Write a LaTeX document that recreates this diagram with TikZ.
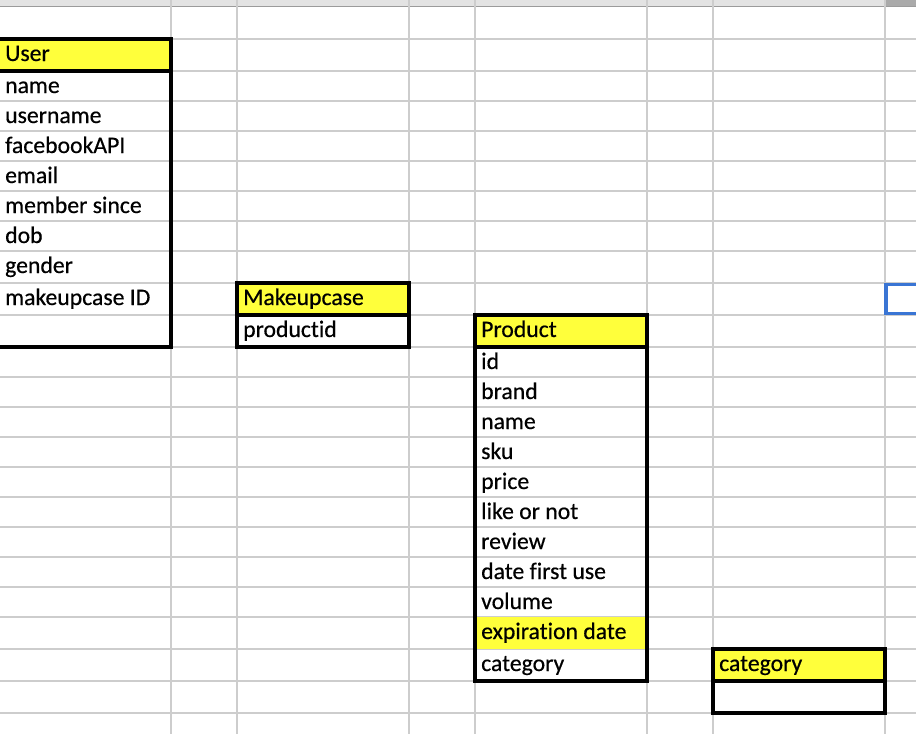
\documentclass[tikz,border=0pt]{standalone}
\usepackage{fontspec}
\setmainfont[Ligatures=NoCommon, FakeBold=0.5]{Carlito}
\usepackage{xcolor}
\usepackage{tikz}
\usetikzlibrary{positioning}
\definecolor{gridgray}{RGB}{205,205,205}
\definecolor{hdrgray}{RGB}{227,227,227}
\definecolor{hdrline}{RGB}{155,155,155}
\definecolor{hdrsel}{RGB}{170,170,170}
\definecolor{hdryellow}{RGB}{255,255,59}
\definecolor{selblue}{RGB}{58,117,212}
\newcommand{\cellfont}{\fontsize{23.7}{28}\selectfont}
\tikzset{
  gridline/.style={draw=gridgray, line width=1.3pt},
  tablebox/.style={draw=black, line width=3.2pt},
  hdrfill/.style={fill=hdryellow},
  cell/.style={anchor=base west, inner sep=0pt, font=\cellfont}
}

\begin{document}
\begin{tikzpicture}[x=1pt, y=-1pt]
  \useasboundingbox (0,0) rectangle (916,734);
  \clip (0,0) rectangle (916,734);
  \fill[white] (0,0) rectangle (916,734);

  % Column header strip
  \fill[hdrgray] (0,0) rectangle (916,6.5);
  \fill[hdrsel] (885,0) rectangle (916,6.5);
  \draw[hdrline, line width=1.5pt] (0,6.5) -- (916,6.5);

  % Sheet grid
  \foreach \x in {171,237,409,475,647,713,885}
    \draw[gridline] (\x,0) -- (\x,734);
  \foreach \y in {39,71,101,131,161,191,221,251,283,315,347,377,407,437,467,497,527,557,587,617,649,681,713}
    \draw[gridline] (0,\y) -- (916,\y);

  % Yellow header cells
  \fill[hdrfill] (-5,39) rectangle (171,71);
  \fill[hdrfill] (237,283) rectangle (409,315);
  \fill[hdrfill] (475,315) rectangle (647,347);
  \fill[hdrfill] (475,617) rectangle (647,649);
  \fill[hdrfill] (713,649) rectangle (885,681);

  % Table borders
  \draw[tablebox] (-5,39) rectangle (171,347);
  \draw[tablebox] (-5,71) -- (171,71);
  \draw[tablebox] (237,283) rectangle (409,347);
  \draw[tablebox] (237,315) -- (409,315);
  \draw[tablebox] (475,315) rectangle (647,681);
  \draw[tablebox] (475,347) -- (647,347);
  \draw[tablebox] (713,649) rectangle (885,713);
  \draw[tablebox] (713,681) -- (885,681);

  % Selected cell
  \draw[selblue, line width=3.3pt] (886,284.5) rectangle (940,313.7);

  % User
  \node[cell] (user) at (5,61) {User};
  \node[cell] (uname) at (5,93) {name};
  \node[cell] (usrname) at (5,123) {username};
  \node[cell] (fbapi) at (5,153) {facebookAPI};
  \node[cell] (email) at (5,183) {email};
  \node[cell] (since) at (5,213) {member since};
  \node[cell] (dob) at (5,243) {dob};
  \node[cell] (gender) at (5,273) {gender};
  \node[cell] (caseid) at (5,305) {makeupcase ID};

  % Makeupcase
  \node[cell] (mcase) at (243,305) {Makeupcase};
  \node[cell] (prodid) at (243,337) {productid};

  % Product
  \node[cell] (prod) at (481,337) {Product};
  \node[cell] (pid) at (481,369) {id};
  \node[cell] (brand) at (481,399) {brand};
  \node[cell] (pname) at (481,429) {name};
  \node[cell] (sku) at (481,459) {sku};
  \node[cell] (price) at (481,489) {price};
  \node[cell] (like) at (481,519) {like or not};
  \node[cell] (review) at (481,549) {review};
  \node[cell] (firstuse) at (481,579) {date first use};
  \node[cell] (volume) at (481,609) {volume};
  \node[cell] (expiry) at (481,639) {expiration date};
  \node[cell] (pcat) at (481,671) {category};

  % Category
  \node[cell] (cat) at (719,671) {category};
\end{tikzpicture}
\end{document}
